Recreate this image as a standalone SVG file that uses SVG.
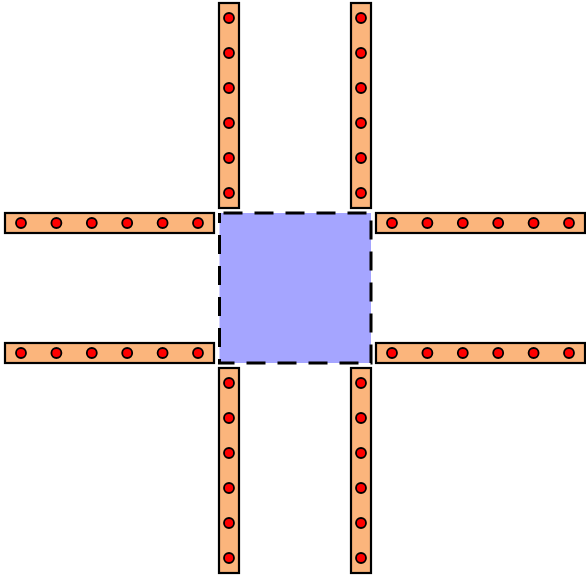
<svg xmlns="http://www.w3.org/2000/svg" width="586" height="576" viewBox="0 0 586 576">
<defs>
<style>
.bar{fill:#fbb57c;stroke:#000;stroke-width:2.2}
.dot{fill:#ff0000;stroke:#000;stroke-width:1.8}
.sq{fill:#a5a5ff;stroke:#000;stroke-width:3;stroke-dasharray:19 12}
</style>
<g id="v">
<rect class="bar" x="-10" y="0" width="20" height="205"/>
<circle class="dot" cx="0" cy="15" r="5"/>
<circle class="dot" cx="0" cy="50" r="5"/>
<circle class="dot" cx="0" cy="85" r="5"/>
<circle class="dot" cx="0" cy="120" r="5"/>
<circle class="dot" cx="0" cy="155" r="5"/>
<circle class="dot" cx="0" cy="190" r="5"/>
</g>
<g id="h">
<rect class="bar" x="0" y="-10" width="209" height="20"/>
<circle class="dot" cx="16" cy="0" r="5"/>
<circle class="dot" cx="51.4" cy="0" r="5"/>
<circle class="dot" cx="86.8" cy="0" r="5"/>
<circle class="dot" cx="122.2" cy="0" r="5"/>
<circle class="dot" cx="157.6" cy="0" r="5"/>
<circle class="dot" cx="193" cy="0" r="5"/>
</g>
</defs>
<g id="center"><rect class="sq" x="219.5" y="213" width="151.5" height="150" stroke-dashoffset="-4"/></g>
<g id="bar-top-left"><use href="#v" x="229" y="3"/></g>
<g id="bar-top-right"><use href="#v" x="361" y="3"/></g>
<g id="bar-bottom-left"><use href="#v" x="229" y="368"/></g>
<g id="bar-bottom-right"><use href="#v" x="361" y="368"/></g>
<g id="bar-left-top"><use href="#h" x="5" y="223"/></g>
<g id="bar-left-bottom"><use href="#h" x="5" y="353"/></g>
<g id="bar-right-top"><use href="#h" x="376" y="223"/></g>
<g id="bar-right-bottom"><use href="#h" x="376" y="353"/></g>
<g id="connectors"></g>
</svg>
